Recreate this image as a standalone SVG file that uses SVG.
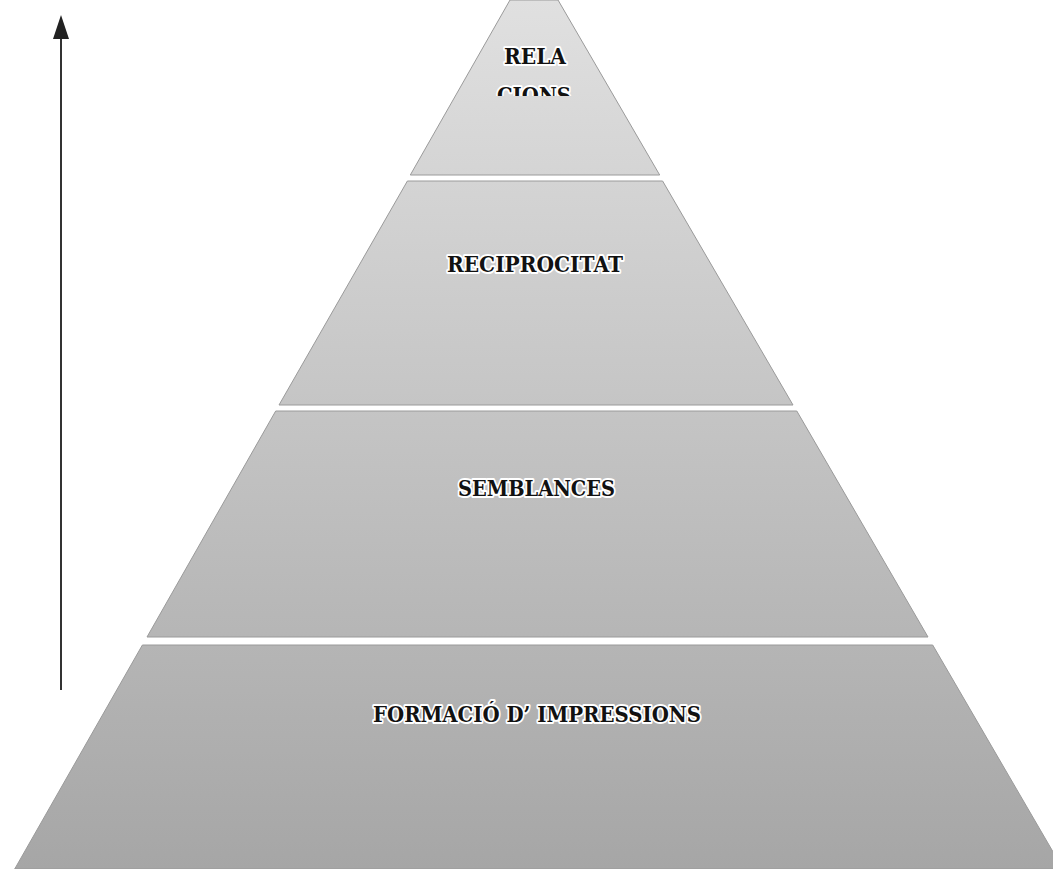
<svg xmlns="http://www.w3.org/2000/svg" width="1053" height="869" viewBox="0 0 1053 869">
  <style>
    .tier { fill: url(#g); stroke: #9a9a9a; stroke-width: 1; }
    .lbl { font-family: "DejaVu Serif", "Liberation Serif", serif; font-weight: bold; font-size: 23px; fill: #111; stroke: #fff; stroke-width: 4px; paint-order: stroke fill; stroke-linejoin: round; text-anchor: middle; }
    .axis { stroke: #333; stroke-width: 2; fill: none; }
  </style>
  <defs>
    <linearGradient id="g" gradientUnits="userSpaceOnUse" x1="0" y1="0" x2="0" y2="869">
      <stop offset="0" stop-color="#e0e0e0"/>
      <stop offset="0.45" stop-color="#c6c6c6"/>
      <stop offset="1" stop-color="#a6a6a6"/>
    </linearGradient>
    <marker id="ah" markerWidth="24" markerHeight="16" refX="0" refY="8" orient="auto" markerUnits="userSpaceOnUse">
      <path d="M0 0 L24 8 L0 16 Z" fill="#222"/>
    </marker>
    <clipPath id="clipTop">
      <rect x="0" y="0" width="1053" height="96"/>
    </clipPath>
  </defs>
  <rect width="1053" height="869" fill="#fff"/>
  <g id="connectors">
    <line class="axis" x1="61" y1="690" x2="61" y2="39" marker-end="url(#ah)"/>
  </g>
  <g id="node-relacions">
    <polygon class="tier" points="510,0 558,0 659.7,175 410.3,175"/>
    <text class="lbl" x="535" y="64" textLength="62" lengthAdjust="spacingAndGlyphs">RELA</text>
    <text class="lbl" x="534" y="103" textLength="74" lengthAdjust="spacingAndGlyphs" clip-path="url(#clipTop)">CIONS</text>
  </g>
  <g id="node-reciprocitat">
    <polygon class="tier" points="407.4,181 662.6,181 793,405 279,405"/>
    <text class="lbl" x="535" y="272" textLength="176" lengthAdjust="spacingAndGlyphs">RECIPROCITAT</text>
  </g>
  <g id="node-semblances">
    <polygon class="tier" points="275.7,411 796.8,411 928,637 147,637"/>
    <text class="lbl" x="536.5" y="496" textLength="157" lengthAdjust="spacingAndGlyphs">SEMBLANCES</text>
  </g>
  <g id="node-formacio">
    <polygon class="tier" points="142.4,645 932.7,645 1063,869 14.7,869"/>
    <text class="lbl" x="537" y="722" textLength="328" lengthAdjust="spacingAndGlyphs">FORMACIÓ D’ IMPRESSIONS</text>
  </g>
</svg>
